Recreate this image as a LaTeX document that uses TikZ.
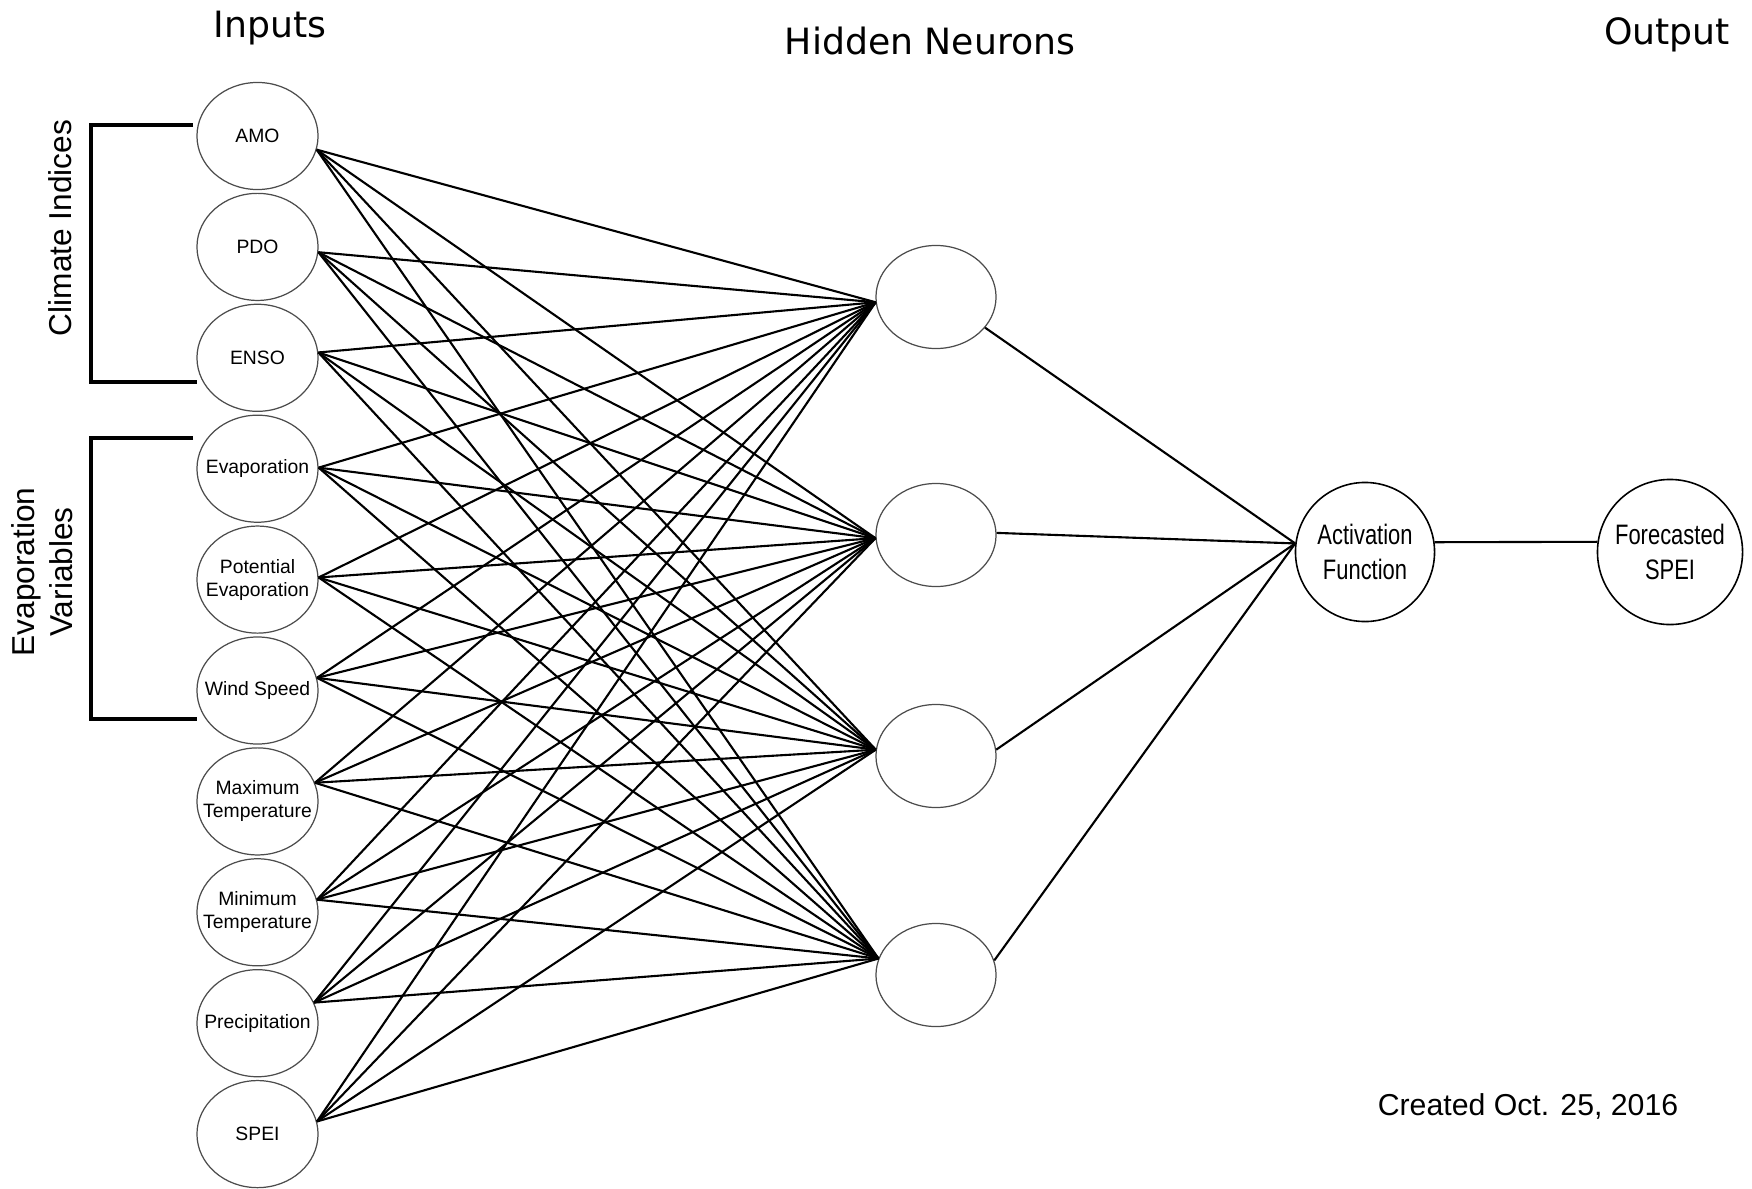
\documentclass[tikz,border=0pt]{standalone}
\usepackage{fontspec}
\setmainfont{Liberation Sans}
\newfontfamily\ttlfont{DejaVu Sans}
\newfontfamily\narrowfont[FakeStretch=0.78]{Liberation Sans}
\usetikzlibrary{shapes.geometric}
\begin{document}
\begin{tikzpicture}[
                x=0.01cm, y=-0.01cm,
                inp/.style={ellipse, draw=black!70, line width=0.35pt, minimum width=1.21cm, minimum height=1.07cm, inner sep=0pt},
                inlbl/.style={font=\fontsize{5.5}{6.5}\selectfont, align=center, inner sep=0pt},
                hid/.style={ellipse, draw=black!70, line width=0.35pt, minimum width=1.2cm, minimum height=1.03cm, inner sep=0pt},
                outn/.style={circle, draw, line width=0.45pt, inner sep=0pt, align=center, font=\narrowfont\fontsize{8}{10}\selectfont},
                ttl/.style={font=\ttlfont\fontsize{10.3}{12}\selectfont, anchor=base},
                side/.style={font=\fontsize{9}{10.8}\selectfont, align=center, rotate=90},
                wire/.style={line width=0.6pt},
                brk/.style={line width=1.15pt},
            ]
            \useasboundingbox (0,0) rectangle (1752,1188);
            \foreach \txt/\ang [count=\i] in {AMO/-13, PDO/-5, ENSO/5, Evaporation/1, {Potential\\Evaporation}/2, Wind Speed/12, {Maximum\\Temperature}/18, {Minimum\\Temperature}/12, Precipitation/20, SPEI/12}
            {
                \node[inp, label={[inlbl]center:\txt}] (i\i) at (257.5, {136+(\i-1)*110.9}) {};
                \coordinate (iout\i) at (i\i.\ang);
            }
            \foreach \yy/\ain/\aout [count=\j] in {297/185/-32, 535/183/2, 756/174/6, 975/164/14}
            {
                \node[hid] (h\j) at (936,\yy) {};
                \foreach \i in {1,...,10}
                    \draw[wire] (iout\i) -- (h\j.\ain);
                \coordinate (hout\j) at (h\j.\aout);
            }
            \node[outn, minimum size=1.39cm] (act) at (1365,552) {Activation\\Function};
            \node[outn, minimum size=1.45cm] (fore) at (1670,552) {Forecasted\\SPEI};
            \foreach \j in {1,...,4}
                \draw[wire] (hout\j) -- (act.173);
            \draw[wire] (act.8) -- (fore.172);
            \node[ttl] (tin) at (270,38) {Inputs};
            \node[ttl] (thid) at (930,55) {Hidden Neurons};
            \node[ttl] (tout) at (1667,45) {Output};
            \node[side] (clim) at (60,228) {Climate Indices};
            \node[side] (evap) at (42,572) {Evaporation\\Variables};
            \draw[brk] (193,125) -- (91,125) -- (91,382) -- (197,382);
            \draw[brk] (193,438) -- (91,438) -- (91,719) -- (197,719);
            \node[font=\fontsize{8.6}{10}\selectfont, anchor=base] (date) at (1528,1115) {Created Oct. 25, 2016};
            \end{tikzpicture}
\end{document}
